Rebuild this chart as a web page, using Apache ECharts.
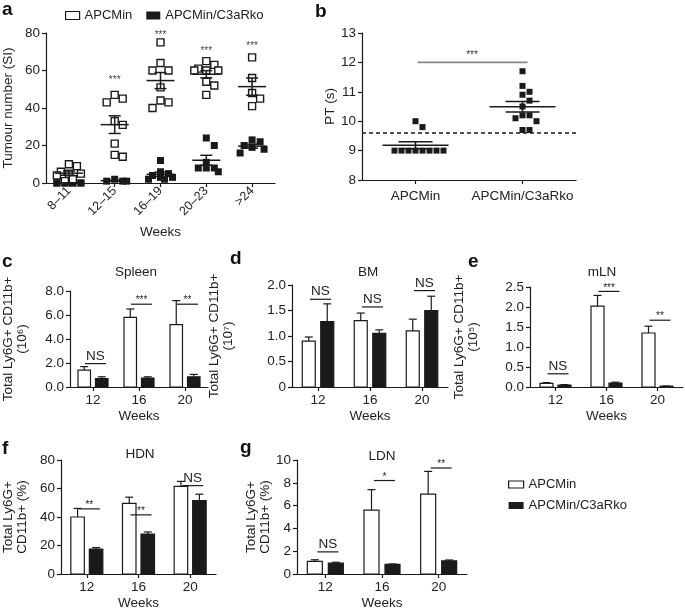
<!DOCTYPE html>
<html>
<head>
<meta charset="utf-8">
<script src="https://cdn.jsdelivr.net/npm/echarts@6/dist/echarts.min.js"></script>
<style>html,body{margin:0;padding:0;background:#fff}#c{width:685px;height:611px}</style>
</head>
<body>
<div id="c"></div>
<script>
// ---------------- Panel a: tumour number (SI) ----------------
const aCats = ['8–11', '12–15', '16–19', '20–23', '>24'];
const aOpen = [
  [10, 9, 6, 5, 5, 4, 2, 1],
  [47, 45, 43, 33, 31, 21, 15, 14],
  [75, 64, 60, 60, 51, 44, 43, 40],
  [65, 63, 61, 60, 60, 60, 54, 52, 47],
  [67, 56, 48, 45, 41]
];
const aFilled = [
  [0, 0, 0, 0, 0, 0, 0, 0],
  [2, 1, 1, 1],
  [12, 6, 5, 4, 3, 3, 2, 2],
  [24, 20, 11, 8, 8, 8, 6],
  [23, 22, 20, 19, 18, 16]
];
const aStars = ['', '***', '***', '***', '***'];
const aStarY = [0, 56.3, 80.3, 71.7, 74.4];

// ---------------- Panel b: PT (s) ----------------
const bCats = ['APCMin', 'APCMin/C3aRko'];
const bValues = [
  [10.0, 9.8, 9.0, 9.0, 9.0, 9.0, 9.0, 9.0, 9.0, 9.0],
  [11.7, 11.2, 11.0, 10.9, 10.7, 10.5, 10.2, 10.2, 10.1, 10.0, 9.7, 9.7]
];
const bThreshold = 9.6;
const bSigY = 12.0;
const bSigLabel = '***';

// ---------------- Bar panels c–g ----------------
const weekCats = ['12', '16', '20'];

const cOpen = [1.4, 5.8, 5.2];
const cOpenErr = [0.3, 0.7, 2.0];
const cFilled = [0.7, 0.75, 0.85];
const cFilledErr = [0.15, 0.1, 0.2];
const cSig = ['NS', '***', '**'];
const cSigY = [1.95, 6.9, 6.9];

const dOpen = [0.9, 1.3, 1.1];
const dOpenErr = [0.08, 0.15, 0.23];
const dFilled = [1.28, 1.05, 1.5];
const dFilledErr = [0.35, 0.07, 0.28];
const dSig = ['NS', 'NS', 'NS'];
const dSigY = [1.72, 1.57, 1.89];

const eOpen = [0.09, 2.02, 1.35];
const eOpenErr = [0.02, 0.27, 0.17];
const eFilled = [0.05, 0.1, 0.02];
const eFilledErr = [0.01, 0.02, 0.005];
const eSig = ['NS', '***', '**'];
const eSigY = [0.33, 2.39, 1.67];

const fOpen = [40, 49.5, 61.5];
const fOpenErr = [6, 4.4, 3.5];
const fFilled = [17.5, 28, 51.5];
const fFilledErr = [1, 1.5, 4.5];
const fSig = ['**', '**', 'NS'];
const fSigY = [45.7, 41.5, 62];

const gOpen = [1.1, 5.6, 7.0];
const gOpenErr = [0.15, 1.8, 2.0];
const gFilled = [0.95, 0.85, 1.15];
const gFilledErr = [0.08, 0.03, 0.08];
const gSig = ['NS', '*', '**'];
const gSigY = [1.94, 8.2, 9.3];

// ---------------- styling / layout ----------------
const FONT = '"Liberation Sans", Arial, Helvetica, sans-serif';
const TXT = '#222222';
const BLK = '#1a1a1a';
const FS = 13.5;
const font = (fs, w) => (w || 'normal') + ' ' + fs + 'px ' + FONT;

const GRIDS = [
  {left: 46, top: 33, width: 229, height: 150},   // a
  {left: 362, top: 33, width: 214, height: 147},  // b
  {left: 61, top: 291, width: 147, height: 96},   // c
  {left: 292, top: 285, width: 156, height: 102}, // d
  {left: 530, top: 287, width: 153, height: 100}, // e
  {left: 60, top: 460, width: 156, height: 115},  // f
  {left: 297, top: 460, width: 170, height: 115}  // g
];

const mean = a => a.reduce((s, v) => s + v, 0) / a.length;
const sem = a => {
  if (a.length < 2) return 0;
  const m = mean(a);
  return Math.sqrt(a.reduce((s, v) => s + (v - m) * (v - m), 0) / (a.length - 1)) / Math.sqrt(a.length);
};

// column-scatter layout (horizontal offsets in px so squares do not overlap)
function swarm(groupsBySeries, pxPerUnit, size, maxHalf) {
  const out = groupsBySeries.map(s => s.map(g => g.map(() => 0)));
  const nG = groupsBySeries[0].length;
  const h = size / 2;
  const cands = [0];
  for (let k = 1; k * h <= maxHalf + 1e-6; k++) { cands.push(k * h); cands.push(-k * h); }
  for (let g = 0; g < nG; g++) {
    const pts = [];
    groupsBySeries.forEach((s, si) => (s[g] || []).forEach((v, i) => pts.push({si, i, y: v * pxPerUnit})));
    pts.sort((p, q) => q.y - p.y);
    const placed = [];
    pts.forEach(p => {
      let best = 0, bestCost = Infinity;
      cands.forEach(x => {
        let cost = Math.abs(x) * 0.01;
        placed.forEach(q => {
          const dx = Math.abs(q.x - x), dy = Math.abs(q.y - p.y);
          if (dx < size && dy < size) cost += (size - dx) * (size - dy);
        });
        if (cost < bestCost - 1e-9) { bestCost = cost; best = x; }
      });
      p.x = best; placed.push(p); out[p.si][g][p.i] = best;
    });
  }
  return out;
}

const axisLineStyle = {color: BLK, width: 1.2};
function yAx(grid, min, max, interval, fmt, name, gap) {
  return {
    type: 'value', gridIndex: grid, min, max, interval,
    axisLine: {show: true, lineStyle: axisLineStyle},
    axisTick: {show: true, length: 4, lineStyle: axisLineStyle},
    axisLabel: {color: TXT, fontSize: FS, fontFamily: FONT, margin: 6, formatter: fmt},
    splitLine: {show: false},
    name, nameLocation: 'middle', nameGap: gap, nameRotate: 90,
    nameTextStyle: {color: TXT, fontSize: FS, fontFamily: FONT, lineHeight: 14}
  };
}
function xAx(grid, cats, name, gap, labelExtra) {
  return {
    type: 'category', gridIndex: grid, data: cats, boundaryGap: true,
    axisLine: {show: true, onZero: false, lineStyle: axisLineStyle},
    axisTick: {show: true, alignWithLabel: true, length: 4, lineStyle: axisLineStyle},
    axisLabel: Object.assign({color: TXT, fontSize: FS, fontFamily: FONT, margin: 6, interval: 0}, labelExtra || {}),
    splitLine: {show: false},
    name, nameLocation: 'middle', nameGap: gap,
    nameTextStyle: {color: TXT, fontSize: FS, fontFamily: FONT}
  };
}

function squareItem(open, size) {
  return function (params, api) {
    const p = api.coord([api.value(0), api.value(1)]);
    const x = p[0] + api.value(2);
    return {
      type: 'rect',
      shape: {x: x - size / 2, y: p[1] - size / 2, width: size, height: size},
      style: open ? {fill: '#ffffff', stroke: BLK, lineWidth: 1.4} : {fill: BLK}
    };
  };
}
function meanItem(wMean, wCap) {
  return function (params, api) {
    const g = api.value(0), m = api.value(1), s = api.value(2);
    const c = api.coord([g, m]), hi = api.coord([g, m + s]), lo = api.coord([g, m - s]);
    const st = {stroke: BLK, lineWidth: 1.5};
    return {type: 'group', children: [
      {type: 'line', shape: {x1: c[0] - wMean / 2, y1: c[1], x2: c[0] + wMean / 2, y2: c[1]}, style: st},
      {type: 'line', shape: {x1: c[0], y1: hi[1], x2: c[0], y2: lo[1]}, style: st},
      {type: 'line', shape: {x1: c[0] - wCap / 2, y1: hi[1], x2: c[0] + wCap / 2, y2: hi[1]}, style: st},
      {type: 'line', shape: {x1: c[0] - wCap / 2, y1: lo[1], x2: c[0] + wCap / 2, y2: lo[1]}, style: st}
    ]};
  };
}
function barItem(side, bw, gap) {
  return function (params, api) {
    const g = api.value(0), v = api.value(1), e = api.value(2);
    const base = api.coord([g, 0]), top = api.coord([g, v]), et = api.coord([g, v + e]);
    const cx = base[0] + side * (gap / 2 + bw / 2);
    const st = {stroke: BLK, lineWidth: 1.2};
    return {type: 'group', children: [
      {type: 'line', shape: {x1: cx, y1: top[1], x2: cx, y2: et[1]}, style: st},
      {type: 'line', shape: {x1: cx - 4, y1: et[1], x2: cx + 4, y2: et[1]}, style: st},
      {type: 'rect', shape: {x: cx - bw / 2, y: top[1], width: bw, height: Math.max(base[1] - top[1], 0.8)},
       style: {fill: side < 0 ? '#ffffff' : BLK, stroke: BLK, lineWidth: 1.2}}
    ]};
  };
}
function sigItem(labels, x1, x2) {
  return function (params, api) {
    const p = api.coord([api.value(0), api.value(1)]);
    const lab = labels[params.dataIndex];
    const star = lab.indexOf('*') >= 0;
    return {type: 'group', children: [
      {type: 'line', shape: {x1: p[0] + x1, y1: p[1], x2: p[0] + x2, y2: p[1]}, style: {stroke: BLK, lineWidth: 1.2}},
      {type: 'text', x: p[0] + (x1 + x2) / 2, y: star ? p[1] - 3.5 : p[1] - 0.5,
       style: {text: lab, fill: TXT, font: star ? font(10) : font(13.5),
               textAlign: 'center', align: 'center',
               textVerticalAlign: star ? 'middle' : 'bottom', verticalAlign: star ? 'middle' : 'bottom'}}
    ]};
  };
}

// ---------------- build series ----------------
const series = [];
const styleOpen = {color: '#ffffff', borderColor: BLK, borderWidth: 1.2};
const styleFilled = {color: BLK, borderColor: BLK};

// panel a
const aOff = swarm([aOpen, aFilled], GRIDS[0].height / 80, 8, 15);
series.push({
  type: 'custom', name: 'APCMin/C3aRko', xAxisIndex: 0, yAxisIndex: 0, z: 3,
  itemStyle: styleFilled, renderItem: squareItem(false, 7), encode: {x: 0, y: 1},
  data: aFilled.flatMap((g, gi) => g.map((v, i) => [gi, v, aOff[1][gi][i]]))
});
series.push({
  type: 'custom', name: 'APCMin', xAxisIndex: 0, yAxisIndex: 0, z: 4,
  itemStyle: styleOpen, renderItem: squareItem(true, 7), encode: {x: 0, y: 1},
  data: aOpen.flatMap((g, gi) => g.map((v, i) => [gi, v, aOff[0][gi][i]]))
});
series.push({
  type: 'custom', name: 'aMean', xAxisIndex: 0, yAxisIndex: 0, z: 5,
  renderItem: meanItem(28, 12), encode: {x: 0, y: 1},
  data: aOpen.map((g, gi) => [gi, mean(g), sem(g)]).concat(aFilled.map((g, gi) => [gi, mean(g), sem(g)]))
});
series.push({
  type: 'custom', name: 'aStars', xAxisIndex: 0, yAxisIndex: 0, z: 5, encode: {x: 0, y: 1},
  renderItem: (params, api) => {
    const lab = aStars[params.dataIndex];
    if (!lab) return null;
    const p = api.coord([api.value(0), api.value(1)]);
    return {type: 'text', x: p[0], y: p[1] + 2.5,
      style: {text: lab, fill: '#444', font: font(10), textAlign: 'center', align: 'center', textVerticalAlign: 'middle', verticalAlign: 'middle'}};
  },
  data: aStarY.map((y, i) => [i, y])
});

// panel b
const bOff = swarm([bValues], GRIDS[1].height / 5, 7, 28);
series.push({
  type: 'custom', name: 'bThreshold', xAxisIndex: 1, yAxisIndex: 1, z: 2, encode: {x: 0, y: 1},
  renderItem: (params, api) => {
    const cs = params.coordSys;
    const y = api.coord([0, api.value(1)])[1];
    return {type: 'line', shape: {x1: cs.x, y1: y, x2: cs.x + cs.width, y2: y},
      style: {stroke: BLK, lineWidth: 1.6, lineDash: [4, 3]}};
  },
  data: [[0, bThreshold]]
});
series.push({
  type: 'custom', name: 'bPoints', xAxisIndex: 1, yAxisIndex: 1, z: 3,
  itemStyle: styleFilled, renderItem: squareItem(false, 6), encode: {x: 0, y: 1},
  data: bValues.flatMap((g, gi) => g.map((v, i) => [gi, v, bOff[0][gi][i]]))
});
series.push({
  type: 'custom', name: 'bMean', xAxisIndex: 1, yAxisIndex: 1, z: 4,
  renderItem: meanItem(66, 34), encode: {x: 0, y: 1},
  data: bValues.map((g, gi) => [gi, mean(g), sem(g)])
});
series.push({
  type: 'custom', name: 'bSig', xAxisIndex: 1, yAxisIndex: 1, z: 4, encode: {x: 0, y: 1},
  renderItem: (params, api) => {
    const p0 = api.coord([0, api.value(1)]), p1 = api.coord([1, api.value(1)]);
    return {type: 'group', children: [
      {type: 'line', shape: {x1: p0[0] + 2, y1: p0[1], x2: p1[0] + 5, y2: p1[1]}, style: {stroke: '#888', lineWidth: 1.6}},
      {type: 'text', x: (p0[0] + p1[0]) / 2 + 3, y: p0[1] - 7,
       style: {text: bSigLabel, fill: '#333', font: font(10), textAlign: 'center', align: 'center', textVerticalAlign: 'middle', verticalAlign: 'middle'}}
    ]};
  },
  data: [[0, bSigY]]
});

// bar panels
const barPanels = [
  {grid: 2, open: cOpen, openErr: cOpenErr, filled: cFilled, filledErr: cFilledErr, sig: cSig, sigY: cSigY, bw: 12.5, gap: 5},
  {grid: 3, open: dOpen, openErr: dOpenErr, filled: dFilled, filledErr: dFilledErr, sig: dSig, sigY: dSigY, bw: 13, gap: 5.5},
  {grid: 4, open: eOpen, openErr: eOpenErr, filled: eFilled, filledErr: eFilledErr, sig: eSig, sigY: eSigY, bw: 13, gap: 5},
  {grid: 5, open: fOpen, openErr: fOpenErr, filled: fFilled, filledErr: fFilledErr, sig: fSig, sigY: fSigY, bw: 13.5, gap: 5},
  {grid: 6, open: gOpen, openErr: gOpenErr, filled: gFilled, filledErr: gFilledErr, sig: gSig, sigY: gSigY, bw: 15, gap: 6}
];
barPanels.forEach(p => {
  series.push({
    type: 'custom', name: 'APCMin', xAxisIndex: p.grid, yAxisIndex: p.grid, z: 3,
    itemStyle: styleOpen, renderItem: barItem(-1, p.bw, p.gap), encode: {x: 0, y: 1},
    data: p.open.map((v, i) => [i, v, p.openErr[i]])
  });
  series.push({
    type: 'custom', name: 'APCMin/C3aRko', xAxisIndex: p.grid, yAxisIndex: p.grid, z: 3,
    itemStyle: styleFilled, renderItem: barItem(1, p.bw, p.gap), encode: {x: 0, y: 1},
    data: p.filled.map((v, i) => [i, v, p.filledErr[i]])
  });
  series.push({
    type: 'custom', name: 'sig' + p.grid, xAxisIndex: p.grid, yAxisIndex: p.grid, z: 4,
    renderItem: sigItem(p.sig, -8, 13), encode: {x: 0, y: 1},
    data: p.sigY.map((y, i) => [i, y])
  });
});

// ---------------- axes ----------------
const f1 = v => v.toFixed(1);
const xAxes = [
  xAx(0, aCats, 'Weeks', 42, {rotate: 45, fontSize: 12.5, margin: 6}),
  xAx(1, bCats, '', 0, {margin: 9}),
  xAx(2, weekCats, 'Weeks', 22),
  xAx(3, weekCats, 'Weeks', 22),
  xAx(4, weekCats, 'Weeks', 22),
  xAx(5, weekCats, 'Weeks', 22),
  xAx(6, weekCats, 'Weeks', 22)
];
const yAxes = [
  yAx(0, 0, 80, 20, null, 'Tumour number (SI)', 31),
  yAx(1, 8, 13, 1, null, 'PT (s)', 25),
  yAx(2, 0, 8, 2, f1, 'Total Ly6G+ CD11b+\n(10⁶)', 41),
  yAx(3, 0, 2, 0.5, v => (v === 0 ? '0' : v.toFixed(1)), 'Total Ly6G+ CD11b+\n(10⁷)', 57),
  yAx(4, 0, 2.5, 0.5, f1, 'Total Ly6G+ CD11b+\n(10⁵)', 50),
  yAx(5, 0, 80, 20, null, 'Total Ly6G+\nCD11b+ (%)', 32),
  yAx(6, 0, 10, 2, null, 'Total Ly6G+\nCD11b+ (%)', 22)
];

// ---------------- texts ----------------
const letter = (t, x, y) => ({type: 'text', x, y,
  style: {text: t, fill: '#111', font: font(19, 'bold'), textAlign: 'left', align: 'left', textVerticalAlign: 'middle', verticalAlign: 'middle'}});
const ptitle = (t, x, y) => ({type: 'text', x, y,
  style: {text: t, fill: TXT, font: font(FS), textAlign: 'center', align: 'center', textVerticalAlign: 'middle', verticalAlign: 'middle'}});

const legendData = [
  {name: 'APCMin', icon: 'rect', itemStyle: {color: '#ffffff', borderColor: BLK, borderWidth: 1.2}},
  {name: 'APCMin/C3aRko', icon: 'rect', itemStyle: {color: BLK, borderColor: BLK, borderWidth: 0}}
];

const option = {
  animation: false,
  backgroundColor: '#ffffff',
  grid: GRIDS,
  xAxis: xAxes,
  yAxis: yAxes,
  legend: [
    {data: legendData, left: 65, top: 9, padding: 0, itemWidth: 14, itemHeight: 8, itemGap: 14, selectedMode: false,
     textStyle: {color: TXT, fontSize: 13, fontFamily: FONT}},
    {data: legendData, orient: 'vertical', left: 508, top: 478, padding: 0, itemWidth: 15, itemHeight: 7, itemGap: 8, selectedMode: false,
     textStyle: {color: TXT, fontSize: 13, fontFamily: FONT}}
  ],
  graphic: [
    letter('a', 2, 10), letter('b', 315, 12), letter('c', 2, 262), letter('d', 230, 259),
    letter('e', 468, 262), letter('f', 2, 449), letter('g', 240, 448),
    ptitle('Spleen', 136, 272), ptitle('BM', 368, 272), ptitle('mLN', 602, 272),
    ptitle('HDN', 140, 454), ptitle('LDN', 382, 456)
  ],
  series
};

const chart = echarts.init(document.getElementById('c'), null, {renderer: 'canvas'});
chart.setOption(option);
</script>
</body>
</html>
